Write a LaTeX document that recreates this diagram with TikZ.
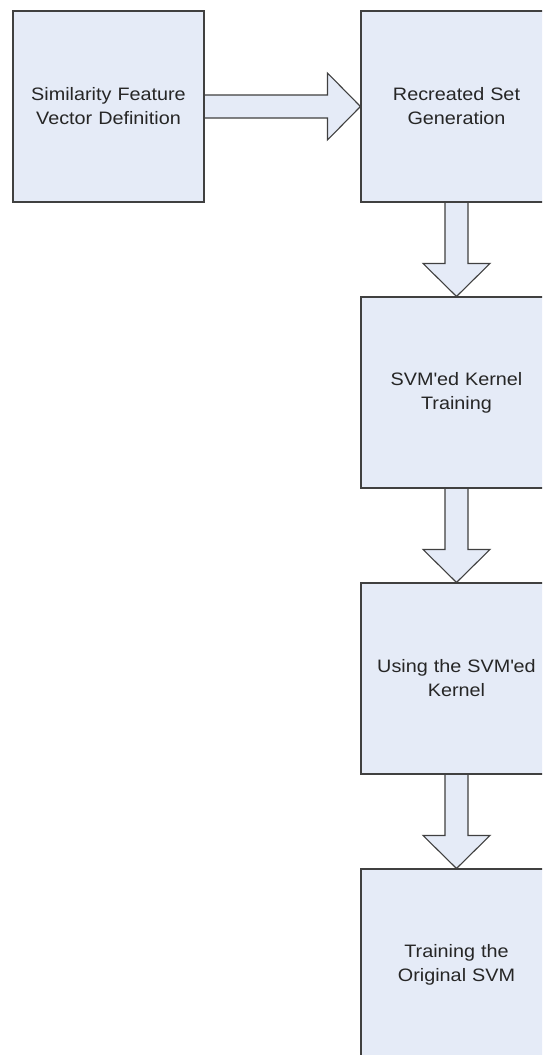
\documentclass[tikz,border=0pt]{standalone}
\usepackage{fontspec}
\setmainfont{Liberation Sans}[FakeStretch=1.1]
\usetikzlibrary{calc}
\pgfdeclarelayer{bg}
\pgfsetlayers{bg,main}
\definecolor{boxfill}{RGB}{229,235,247}
\definecolor{boxline}{RGB}{64,64,64}
\definecolor{txt}{RGB}{38,38,38}
\tikzset{
  stepbox/.style={draw=boxline, fill=boxfill, line width=1.1pt, minimum width=191pt, minimum height=191pt,
    inner sep=0pt, align=center, text=txt, font=\fontsize{18}{24}\selectfont, text width=185pt},
  blockarrow/.style={draw=boxline, fill=boxfill, line width=1.1pt, line join=miter}
}
\begin{document}
\begin{tikzpicture}[x=1pt,y=-1pt]
\useasboundingbox (0,0) rectangle (542,1055);
\clip (0,0) rectangle (542,1055);
\node[stepbox] (a) at (108.5,106.5) {Similarity Feature\\Vector Definition};
\node[stepbox] (b) at (456.5,106.5) {Recreated Set\\Generation};
\node[stepbox] (c) at (456.5,392.5) {SVM\textquotesingle ed Kernel\\Training};
\node[stepbox] (d) at (456.5,678.5) {Using the SVM\textquotesingle ed\\Kernel};
\node[stepbox] (e) at (456.5,964.5) {Training the\\Original SVM};
\begin{pgfonlayer}{bg}
\fill[white] (0,0) rectangle (542,1055);
\filldraw[blockarrow] ($(a.east)+(0,-11.5)$) -- ($(b.west)+(-33,-11.5)$) -- ($(b.west)+(-33,-33.5)$) -- (b.west)
  -- ($(b.west)+(-33,33.5)$) -- ($(b.west)+(-33,11.5)$) -- ($(a.east)+(0,11.5)$);
\foreach \u/\v in {b/c,c/d,d/e}{
  \filldraw[blockarrow] ($(\u.south)+(-11.5,0)$) -- ($(\v.north)+(-11.5,-33)$) -- ($(\v.north)+(-33.5,-33)$) -- (\v.north)
    -- ($(\v.north)+(33.5,-33)$) -- ($(\v.north)+(11.5,-33)$) -- ($(\u.south)+(11.5,0)$);
}
\end{pgfonlayer}
\end{tikzpicture}
\end{document}
